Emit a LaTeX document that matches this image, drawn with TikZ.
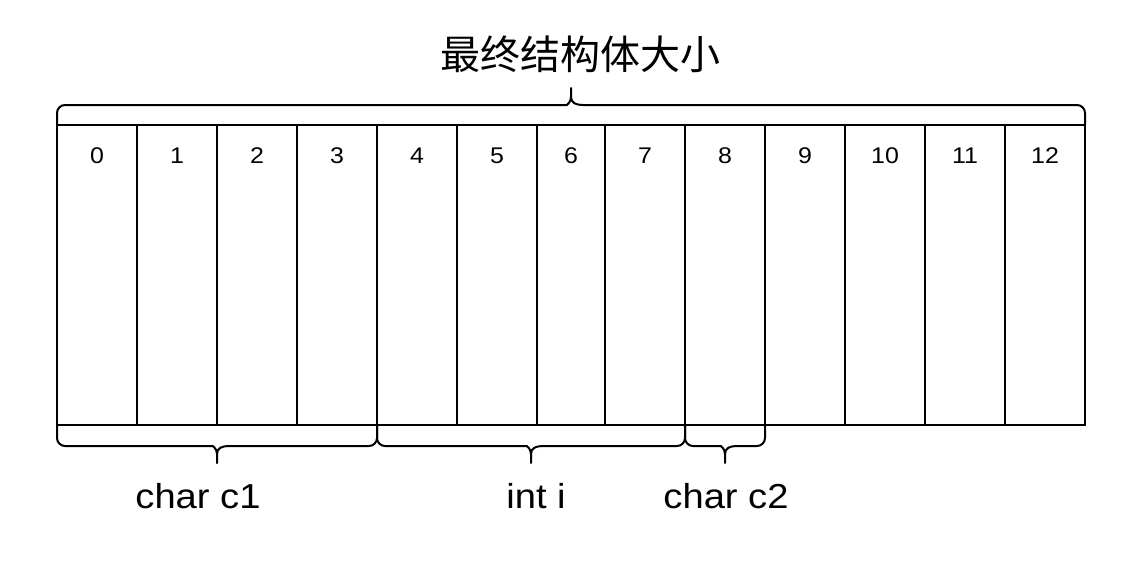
\documentclass[tikz,border=0pt]{standalone}
\usepackage{graphicx}
\usepackage{fontspec}
\setmainfont{Liberation Sans}
\newfontfamily\cjk{Noto Sans CJK SC}

% text drawn a bit wider, as in the original
\newcommand{\widetext}[1]{\scalebox{1.1}[1]{#1}}

% curly bracket: x1, x2, y at the ends, y of the bar, y of the tip
\newcommand{\sizebrace}[5]{%
  \pgfmathsetmacro{\bm}{(#1+#2)/2}
  \pgfmathsetmacro{\bd}{(#5-#4)/abs(#5-#4)}
  \pgfmathsetmacro{\bya}{#4+2*\bd}
  \pgfmathsetmacro{\byb}{#4+8*\bd}
  \draw[brace] (#1,#3) [rounded corners=6pt] -- (#1,#4) -- (\bm-12,#4) [sharp corners]
    .. controls (\bm-5,#4) and (\bm,\bya) .. (\bm,\byb) -- (\bm,#5)
    -- (\bm,\byb) .. controls (\bm,\bya) and (\bm+5,#4) .. (\bm+12,#4)
    [rounded corners=6pt] -- (#2,#4) -- (#2,#3);
}

\begin{document}
\begin{tikzpicture}[x=0.75pt,y=-0.75pt]
\tikzset{cell/.style={draw,line width=1.5pt,inner sep=0pt,minimum height=225pt}}
\tikzset{num/.style={font=\fontsize{17pt}{19pt}\selectfont,anchor=base}}
\tikzset{field/.style={font=\fontsize{26pt}{30pt}\selectfont,anchor=base}}
\tikzset{brace/.style={line width=1.5pt,line join=round}}
\useasboundingbox (0,0) rectangle (1130,560);

% the bytes
\foreach \i/\l/\r in {0/57/137,1/137/217,2/217/297,3/297/377,4/377/457,5/457/537,
  6/537/605,7/605/685,8/685/765,9/765/845,10/845/925,11/925/1005,12/1005/1085}
{
  \node[cell,minimum width={(\r-\l)*0.75pt}] (c\i) at ({(\l+\r)/2},275) {};
  \node[num] (n\i) at ({(\l+\r)/2},163) {\widetext{\i}};
}

% braces
\sizebrace{57}{1085}{125}{105}{88}
\sizebrace{57}{377}{426}{446}{463}
\sizebrace{377}{685}{426}{446}{463}
\sizebrace{685}{765}{426}{446}{463}

\node[font=\cjk\fontsize{30pt}{34pt}\selectfont] (total) at (580,54) {最终结构体大小};
\node[field] (c1) at (198,508) {\widetext{char c1}};
\node[field] (ii) at (536,508) {\widetext{int i}};
\node[field] (c2) at (726,508) {\widetext{char c2}};
\end{tikzpicture}
\end{document}
